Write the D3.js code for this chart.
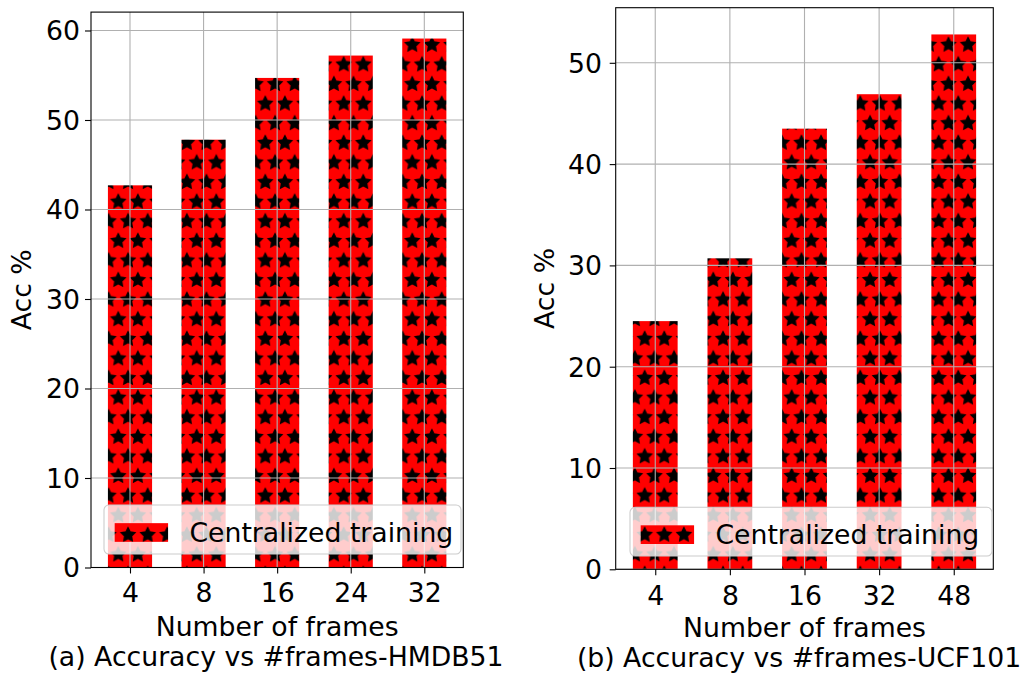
<!DOCTYPE html>
<html>
<head>
<meta charset="utf-8">
<script src="https://cdn.jsdelivr.net/npm/d3@7"></script>
<style>
  html, body { margin: 0; padding: 0; background: #fff; }
  svg { display: block; }
  text { font-family: "DejaVu Sans", sans-serif; fill: #000; }
</style>
</head>
<body>
<svg id="chart" width="1029" height="676"></svg>
<script>
// Accuracy vs number of frames, two datasets
const hmdbFrames = ["4", "8", "16", "24", "32"];
const hmdbAcc = [42.7, 47.8, 54.7, 57.2, 59.1];
const hmdbYTicks = [0, 10, 20, 30, 40, 50, 60];

const ucfFrames = ["4", "8", "16", "32", "48"];
const ucfAcc = [24.5, 30.7, 43.5, 46.9, 52.8];
const ucfYTicks = [0, 10, 20, 30, 40, 50];

const legendLabel = "Centralized training";
const xTitle = "Number of frames";
const yTitle = "Acc %";
const captions = ["(a) Accuracy vs #frames-HMDB51", "(b) Accuracy vs #frames-UCF101"];

const FONT = 26.7;
const GRID = "#b0b0b0";
const svg = d3.select("#chart");
const defs = svg.append("defs");

// star hatch: rows of 5-point stars, alternate rows shifted by half a step
const STEP = 19.6;
function starPath(cx, cy, r) {
  const pts = [];
  for (let i = 0; i < 10; i++) {
    const rad = i % 2 === 0 ? r : r * 0.5;
    const a = Math.PI / 2 + i * Math.PI / 5;
    pts.push([cx + rad * Math.cos(a), cy - rad * Math.sin(a)]);
  }
  return "M" + pts.map(p => p[0].toFixed(2) + "," + p[1].toFixed(2)).join("L") + "Z";
}
function makeHatch(id, ox, oy, fill, ink) {
  const p = defs.append("pattern")
    .attr("id", id)
    .attr("patternUnits", "userSpaceOnUse")
    .attr("x", ox).attr("y", oy)
    .attr("width", STEP).attr("height", STEP * 2);
  p.append("rect").attr("width", STEP).attr("height", STEP * 2).attr("fill", fill);
  const centers = [[STEP / 2, STEP / 2], [0, STEP * 1.5], [STEP, STEP * 1.5],
                   [STEP / 2, -STEP / 2], [STEP / 2, STEP * 2.5],
                   [0, -STEP / 2], [STEP, -STEP / 2]];
  centers.forEach(c => {
    p.append("path").attr("d", starPath(c[0], c[1], 7.0))
      .attr("fill", ink).attr("stroke", ink).attr("stroke-width", 1.5)
      .attr("stroke-linejoin", "miter");
  });
}
makeHatch("hatchA", 118.3 - STEP / 2, 201.7 - STEP / 2, "#ff0000", "#000");
makeHatch("hatchB", 713.3 - STEP / 2, 280 - STEP / 2, "#ff0000", "#000");

const panels = [
  { frames: hmdbFrames, acc: hmdbAcc, yTicks: hmdbYTicks, hatch: "hatchA",
    left: 91, right: 463.3, top: 12.1, bottom: 567.5,
    yLabelX: 80, xLabelY: 602, xTitleY: 636, yTitleX: 22,
    caption: captions[0], capX: 276, capY: 666,
    legend: { x: 104, y: 505, w: 357, h: 49 } },
  { frames: ucfFrames, acc: ucfAcc, yTicks: ucfYTicks, hatch: "hatchB",
    left: 615.7, right: 993.3, top: 7.7, bottom: 569.3,
    yLabelX: 602, xLabelY: 605, xTitleY: 637, yTitleX: 545,
    caption: captions[1], capX: 799, capY: 667,
    legend: { x: 630, y: 507.3, w: 362, h: 48.7 } }
];

panels.forEach(P => {
  const n = P.frames.length;
  const barW = 0.6;
  const pad = 0.05 * (n - 1 + barW);
  const x = d3.scaleLinear()
    .domain([-barW / 2 - pad, n - 1 + barW / 2 + pad])
    .range([P.left, P.right]);
  const yMax = d3.max(P.acc) * 1.05;
  const y = d3.scaleLinear().domain([0, yMax]).range([P.bottom, P.top]);

  const g = svg.append("g");

  // bars
  g.selectAll("rect.bar").data(P.acc).join("rect")
    .attr("class", "bar")
    .attr("x", (d, i) => x(i - barW / 2))
    .attr("width", (d, i) => x(i + barW / 2) - x(i - barW / 2))
    .attr("y", d => y(d))
    .attr("height", d => y(0) - y(d))
    .attr("fill", "url(#" + P.hatch + ")");

  // grid drawn above the bars
  g.selectAll("line.vgrid").data(d3.range(n)).join("line")
    .attr("x1", i => x(i)).attr("x2", i => x(i))
    .attr("y1", P.top).attr("y2", P.bottom)
    .attr("stroke", GRID).attr("stroke-width", 1.1);
  g.selectAll("line.hgrid").data(P.yTicks).join("line")
    .attr("x1", P.left).attr("x2", P.right)
    .attr("y1", d => y(d)).attr("y2", d => y(d))
    .attr("stroke", GRID).attr("stroke-width", 1.1);

  // axes
  const xAxis = d3.axisBottom(x)
    .tickValues(d3.range(n))
    .tickFormat(i => P.frames[i])
    .tickSize(6).tickSizeOuter(0);
  const gx = g.append("g").attr("transform", `translate(0,${P.bottom})`).call(xAxis);
  gx.select(".domain").remove();
  gx.selectAll(".tick line").attr("stroke", "#000").attr("stroke-width", 1.1);
  gx.selectAll(".tick text")
    .attr("y", P.xLabelY - P.bottom).attr("dy", 0)
    .style("font-family", "DejaVu Sans").style("font-size", FONT + "px").attr("fill", "#000");

  const yAxis = d3.axisLeft(y)
    .tickValues(P.yTicks)
    .tickSize(6).tickSizeOuter(0);
  const gy = g.append("g").attr("transform", `translate(${P.left},0)`).call(yAxis);
  gy.select(".domain").remove();
  gy.selectAll(".tick line").attr("stroke", "#000").attr("stroke-width", 1.1);
  gy.selectAll(".tick text")
    .attr("x", P.yLabelX - P.left).attr("dy", "0.35em")
    .style("font-family", "DejaVu Sans").style("font-size", FONT + "px").attr("fill", "#000");

  // frame
  g.append("rect")
    .attr("x", P.left).attr("y", P.top)
    .attr("width", P.right - P.left).attr("height", P.bottom - P.top)
    .attr("fill", "none").attr("stroke", "#000").attr("stroke-width", 1.1);

  // legend
  const L = P.legend;
  const lg = g.append("g");
  lg.append("rect")
    .attr("x", L.x).attr("y", L.y).attr("width", L.w).attr("height", L.h)
    .attr("rx", 5).attr("ry", 5)
    .attr("fill", "#fff").attr("fill-opacity", 0.8)
    .attr("stroke", "#cccccc").attr("stroke-width", 1.1);
  const hx = L.x + 0.4 * FONT;
  const hy = L.y + L.h / 2 - 0.35 * FONT + 3;
  lg.append("rect")
    .attr("x", hx).attr("y", hy)
    .attr("width", 2 * FONT).attr("height", 0.7 * FONT)
    .attr("fill", "url(#" + P.hatch + ")");
  lg.append("text")
    .attr("x", hx + 2.8 * FONT).attr("y", hy + 0.7 * FONT)
    .style("font-size", FONT + "px")
    .text(legendLabel);

  // titles
  g.append("text")
    .attr("x", (P.left + P.right) / 2).attr("y", P.xTitleY)
    .attr("text-anchor", "middle").style("font-size", FONT + "px")
    .text(xTitle);
  g.append("text")
    .attr("transform", `translate(${P.yTitleX},${(P.top + P.bottom) / 2}) rotate(-90)`)
    .attr("text-anchor", "middle").attr("dy", "0.35em")
    .style("font-size", FONT + "px")
    .text(yTitle);
  g.append("text")
    .attr("x", P.capX).attr("y", P.capY)
    .attr("text-anchor", "middle").style("font-size", FONT + "px")
    .text(P.caption);
});
</script>
</body>
</html>
